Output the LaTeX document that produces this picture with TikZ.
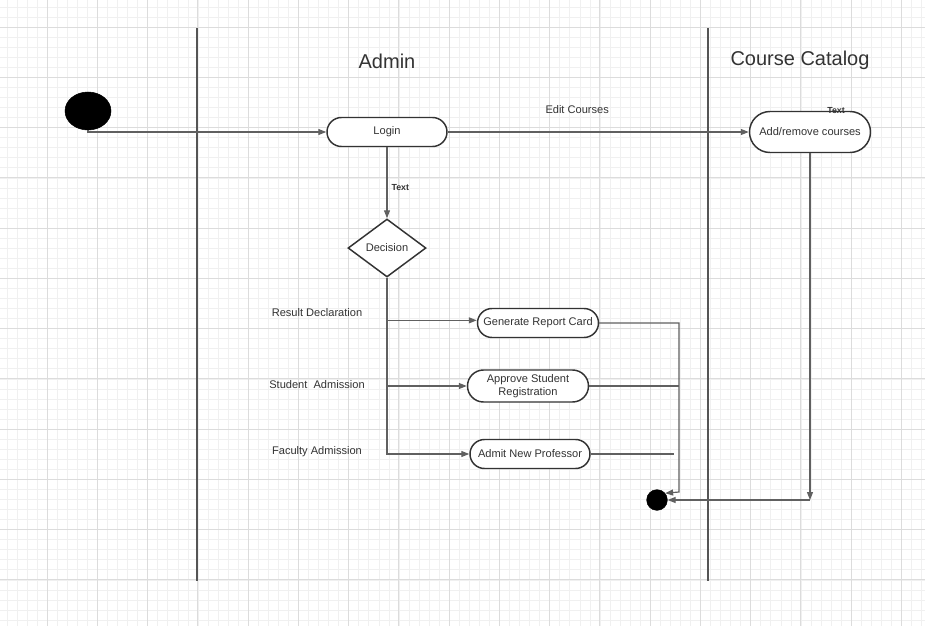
\documentclass[tikz,border=0pt]{standalone}
\usepackage{fontspec}
\setmainfont{Liberation Sans}
\usetikzlibrary{shapes.geometric,shapes.misc,arrows.meta}
\definecolor{gridminor}{HTML}{F0F0F0}
\definecolor{gridmajor}{HTML}{DCDCDC}
\definecolor{ink}{HTML}{333333}
\definecolor{edge}{HTML}{606060}
\definecolor{lanecol}{HTML}{555555}
\begin{document}
\begin{tikzpicture}[x=0.75pt,y=-0.75pt,
  every node/.style={text=ink},
  txt/.style={font=\fontsize{8.3}{9.8}\selectfont, inner sep=0pt},
  tag/.style={font=\bfseries\fontsize{6.6}{8}\selectfont, inner sep=1pt},
  title/.style={font=\fontsize{15}{18}\selectfont, inner sep=0pt},
  activity/.style={rounded rectangle, draw=ink, line width=1.1pt, fill=white,
    inner sep=0pt, align=center, font=\fontsize{8.3}{9.8}\selectfont},
  flow/.style={draw=edge, line width=0.9pt, -{Triangle[length=6pt,width=4.5pt]}},
  plain/.style={draw=edge, line width=0.9pt},
  lane/.style={draw=lanecol, line width=1.5pt}]

% paper and grid
\useasboundingbox (0,0) rectangle (925,626);
\fill[white] (0,0) rectangle (925,626);
\foreach \i in {0,...,92} {
  \draw[gridminor, line width=0.5pt] ({7+10.05*\i},0) -- ({7+10.05*\i},626);
}
\foreach \i in {0,...,62} {
  \draw[gridminor, line width=0.5pt] (0,{7+10.05*\i}) -- (925,{7+10.05*\i});
}
\foreach \i in {0,...,18} {
  \draw[gridmajor, line width=0.6pt] ({47+50.25*\i},0) -- ({47+50.25*\i},626);
}
\foreach \i in {0,...,12} {
  \draw[gridmajor, line width=0.6pt] (0,{27+50.25*\i}) -- (925,{27+50.25*\i});
}

% swimlane separators
\draw[lane] (197,28) -- (197,581);
\draw[lane] (708,28) -- (708,581);
\node[title] (admintitle) at (387,61) {Admin};
\node[title] (catalogtitle) at (800,60) {Course Catalog};

% activity nodes
\node[ellipse, fill=black, draw=black, minimum width=34.5pt, minimum height=28.5pt, inner sep=0pt] (start) at (88,111) {};
\node[activity, minimum width=90pt, minimum height=21.75pt] (login) at (387,132) {Login};
\node[activity, minimum width=90.75pt, minimum height=30.75pt] (addrm) at (810,132) {Add/remove courses};
\node[diamond, draw=ink, line width=1.1pt, fill=white, minimum width=58.5pt, minimum height=43.5pt, inner sep=0pt, font=\fontsize{8.3}{9.8}\selectfont] (dec) at (387,248) {Decision};
\node[activity, minimum width=90.75pt, minimum height=21.75pt] (grc) at (538,323) {Generate Report Card};
\node[activity, minimum width=90.75pt, minimum height=24pt] (asr) at (528,386) {Approve Student\\Registration};
\node[activity, minimum width=90pt, minimum height=21.75pt] (anp) at (530,454) {Admit New Professor};
\node[circle, fill=black, draw=black, minimum size=15.5pt, inner sep=0pt] (end) at (657,500) {};

% branch captions
\node[txt] (resdecl) at (317,313) {Result Declaration};
\node[txt] (studadm) at (317,385) {Student\ \ Admission};
\node[txt] (facadm) at (317,452) {Faculty Admission};
\node[tag] (addrmtag) at (836,111) {Text};

% helper points
\coordinate (join) at (679,492);
\coordinate (anpstop) at (674,454);
\coordinate (catcorner) at (810,500);

% connectors
\draw[flow] (start.south) |- (login.west);
\draw[flow] (login.east) -- node[txt, pos=0.43, yshift=16.5pt] (editlbl) {Edit Courses} (addrm.west);
\draw[flow] (login.south) -- node[tag, pos=0.57, anchor=west, xshift=2pt] (logintag) {Text} (dec.north);
\draw[flow] (dec.south) |- ([yshift=2pt]grc.west);
\draw[flow] (dec.south) |- (asr.west);
\draw[flow] (dec.south) |- (anp.west);
\draw[flow] (grc.east) -| (join) -- (end.40);
\draw[plain] (asr.east) -- (asr.east -| join);
\draw[plain] (anp.east) -- (anpstop);
\draw[flow] (addrm.south) -- (catcorner);
\draw[flow] (catcorner) -- (end.east);
\end{tikzpicture}
\end{document}
